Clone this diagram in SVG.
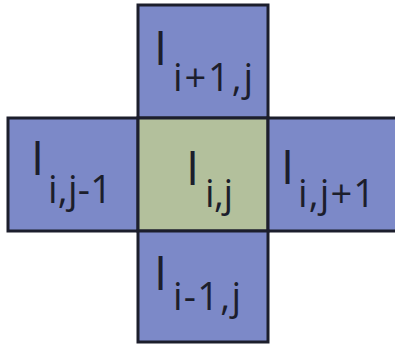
<svg xmlns="http://www.w3.org/2000/svg" width="395" height="345" viewBox="0 0 395 345">
<style>
.blue{fill:#7c89c8;stroke:#1c1e2c;stroke-width:3}
.green{fill:#b3c09c;stroke:#1c1e2c;stroke-width:3}
.big{font-family:"Open Sans","Noto Sans",sans-serif;font-size:47px;fill:#1c1e2c}
.sub{font-family:"Open Sans","Noto Sans",sans-serif;font-size:38px;fill:#1c1e2c}
</style>
<rect width="395" height="345" fill="#ffffff"/>
<g id="cell-top">
<rect class="blue" x="138" y="5" width="130" height="113"/>
<text class="big" x="154" y="65">I</text>
<text class="sub" x="173" y="91" textLength="80" lengthAdjust="spacing">i+1,j</text>
</g>
<g id="cell-left">
<rect class="blue" x="8" y="118" width="130" height="113"/>
<text class="big" x="31" y="175">I</text>
<text class="sub" x="48" y="203" textLength="64" lengthAdjust="spacing">i,j-1</text>
</g>
<g id="cell-center">
<rect class="green" x="138" y="118" width="130" height="113"/>
<text class="big" x="186" y="185">I</text>
<text class="sub" x="205" y="207" textLength="28" lengthAdjust="spacing">i,j</text>
</g>
<g id="cell-right">
<rect class="blue" x="268" y="118" width="135" height="113"/>
<text class="big" x="281" y="184">I</text>
<text class="sub" x="298" y="207" textLength="77" lengthAdjust="spacing">i,j+1</text>
</g>
<g id="cell-bottom">
<rect class="blue" x="138" y="231" width="130" height="111"/>
<text class="big" x="154" y="290">I</text>
<text class="sub" x="173" y="310" textLength="68" lengthAdjust="spacing">i-1,j</text>
</g>
</svg>
